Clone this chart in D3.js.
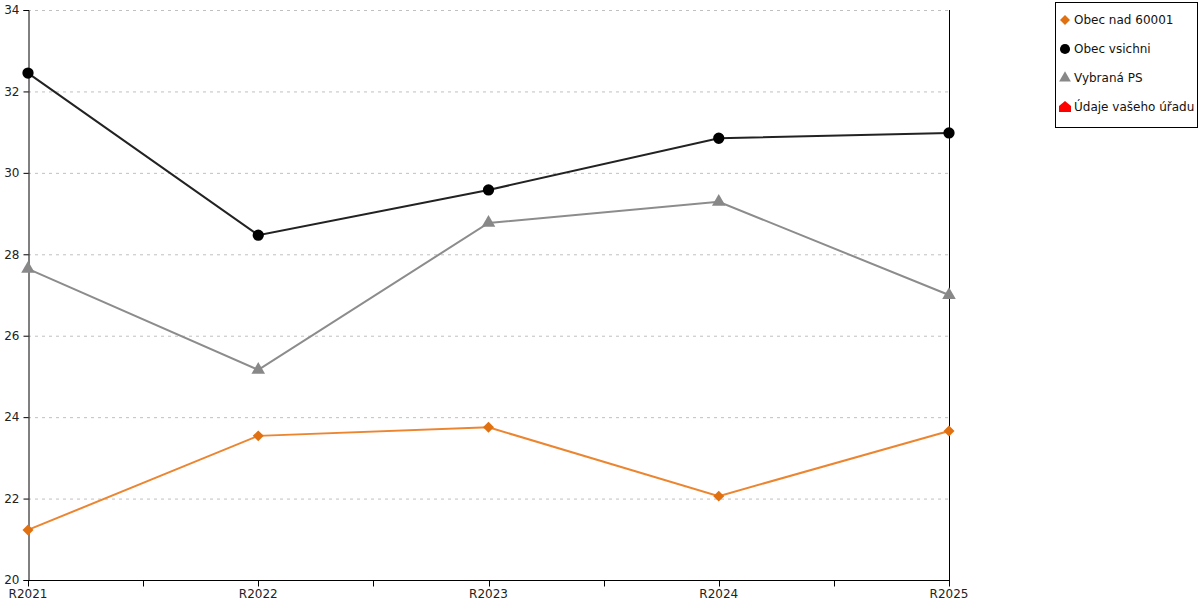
<!DOCTYPE html>
<html><head><meta charset="utf-8">
<script src="https://cdn.jsdelivr.net/npm/d3@7"></script>
<style>
body{margin:0;background:#fff;}
svg{display:block;font-family:"DejaVu Sans",sans-serif;}
</style></head><body>
<svg id="c" width="1200" height="600"></svg>
<script>
const categories = ["R2021","R2022","R2023","R2024","R2025"];
const obecNad60001 = [21.23, 23.54, 23.75, 22.06, 23.66];
const obecVsichni = [32.45, 28.47, 29.58, 30.85, 30.98];
const vybranaPS = [27.64, 25.16, 28.77, 29.29, 27.0];
const yTicks = [20,22,24,26,28,30,32,34];
const legendLabels = ["Obec nad 60001","Obec vsichni","Vybraná PS","Údaje vašeho úřadu"];

(function(){
const svg = d3.select("#c");
const mLeft = 28, mRight = 949, mTop = 10, mBottom = 580;
const x = d3.scalePoint().domain(categories).range([mLeft, mRight]);
const y = d3.scaleLinear().domain([20,34]).range([mBottom, mTop]);

// grid
svg.append("g").selectAll("line").data(yTicks.filter(d=>d>20)).join("line")
  .attr("x1", mLeft).attr("x2", mRight)
  .attr("y1", d=>y(d)+0.5).attr("y2", d=>y(d)+0.5)
  .attr("stroke", "#c0c0c0").attr("stroke-dasharray","3,4");

// y axis
const ya = svg.append("g").attr("transform",`translate(${mLeft+0.5},0)`)
  .call(d3.axisLeft(y).tickValues(yTicks).tickSize(5).tickPadding(4).tickFormat(d3.format("d")));
ya.select(".domain").attr("stroke","#000");
ya.selectAll("text").attr("font-size",12).attr("fill","#222").attr("font-family","DejaVu Sans");

// right border
svg.append("line").attr("x1",mRight+0.5).attr("x2",mRight+0.5).attr("y1",mTop).attr("y2",mBottom+6).attr("stroke","#000");

// x axis with half ticks
const step = x.step();
const xTickPos = d3.range(0, categories.length*2-1).map(i=>mLeft + i*step/2);
const xa = svg.append("g").attr("transform",`translate(0,${mBottom+0.5})`);
xa.append("line").attr("x1",mLeft).attr("x2",mRight).attr("stroke","#000");
xa.selectAll("line.t").data(xTickPos).join("line").attr("class","t")
  .attr("x1",d=>Math.round(d)+0.5).attr("x2",d=>Math.round(d)+0.5).attr("y1",0).attr("y2",6).attr("stroke","#000");
xa.selectAll("text").data(categories).join("text")
  .attr("x",d=>x(d)).attr("y",17).attr("text-anchor","middle")
  .attr("font-size",12).attr("fill","#222").text(d=>d);

const series = [
  {vals: vybranaPS, color:"#888888", line:"#8c8c8c", sym:d3.symbolTriangle, size:80, rot:0},
  {vals: obecNad60001, color:"#e07010", line:"#ec8530", sym:d3.symbolSquare, size:60, rot:45},
  {vals: obecVsichni, color:"#000000", line:"#222222", sym:d3.symbolCircle, size:100, rot:0},
];
const lineGen = d3.line().x((d,i)=>x(categories[i])).y(d=>y(d));
series.forEach(s=>{
  svg.append("path").datum(s.vals).attr("d",lineGen).attr("fill","none")
    .attr("stroke",s.line).attr("stroke-width",2);
});
series.forEach(s=>{
  svg.append("g").selectAll("path").data(s.vals).join("path")
    .attr("transform",(d,i)=>`translate(${x(categories[i])},${y(d)}) rotate(${s.rot})`)
    .attr("d",d3.symbol(s.sym,s.size)).attr("fill",s.color);
});

// legend
const lg = svg.append("g");
lg.append("rect").attr("x",1055.5).attr("y",2.5).attr("width",142).attr("height",125)
  .attr("fill","#fff").attr("stroke","#000");
const legSyms = [
  {sym:d3.symbolSquare,color:"#e07010",size:50,rot:45},
  {sym:d3.symbolCircle,color:"#000",size:80,rot:0},
  {sym:d3.symbolTriangle,color:"#888",size:60,rot:0},
  {sym:"house",color:"#ff0000"}
];
legendLabels.forEach((t,i)=>{
  const cy = 20 + i*29;
  const s = legSyms[i];
  if (s.sym==="house") {
    lg.append("path").attr("d",`M${1059},${cy+5} L1059,${cy-1} L1065,${cy-6} L1071,${cy-1} L1071,${cy+5} Z`).attr("fill",s.color);
  } else {
    lg.append("path").attr("transform",`translate(1065,${cy}) rotate(${s.rot})`).attr("d",d3.symbol(s.sym,s.size)).attr("fill",s.color);
  }
  lg.append("text").attr("x",1074).attr("y",cy+4).attr("font-size",12).attr("fill","#111").text(t);
});
})();
</script></body></html>
